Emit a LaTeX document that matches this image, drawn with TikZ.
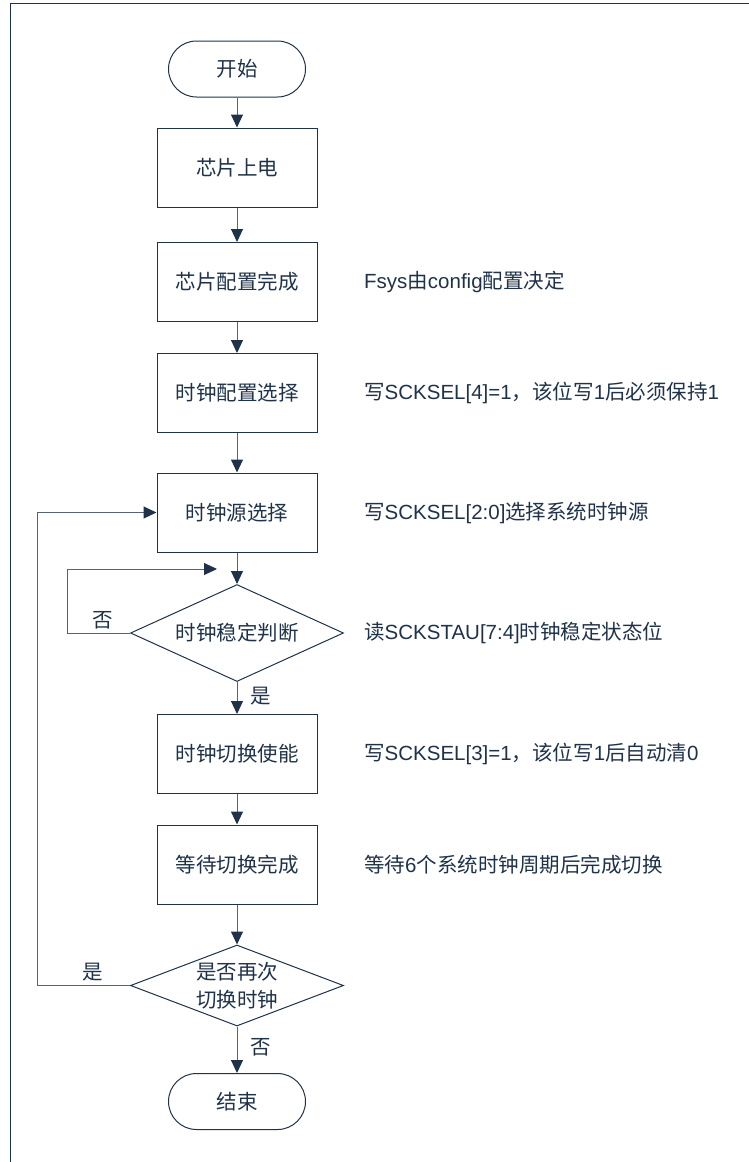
\documentclass[tikz,border=0pt]{standalone}
\usepackage{fontspec}
\setmainfont{Noto Sans CJK SC}
\newfontfamily\latin{Liberation Sans}
\usetikzlibrary{shapes.geometric,arrows.meta}
\definecolor{ink}{RGB}{31,50,72}
\definecolor{wire}{RGB}{84,100,118}
\tikzset{
  term/.style={draw=ink,line width=1pt,rounded corners=28pt,minimum width=137pt,minimum height=56pt},
  proc/.style={draw=ink,line width=1pt,minimum width=160pt,minimum height=79pt,inner sep=0pt},
  test/.style={draw=ink,line width=1pt,shape=diamond,aspect=2.6,inner sep=0pt,minimum width=213pt,align=center},
  note/.style={anchor=west,inner sep=0pt},
  flow/.style={draw=wire,line width=1pt,-{Triangle[length=13pt,width=12pt,color=ink]}},
}
\begin{document}
\begin{tikzpicture}[x=1pt,y=-1pt,font=\fontsize{20.5}{28}\selectfont,text=ink]
\useasboundingbox (0,0) rectangle (749,1162);
\draw[ink,line width=1pt] (10,1162) -- (10,3) -- (749,3); % frame
\node[term] (start)   at (237,69)    {开始};
\node[proc] (powerup) at (237,167.5) {芯片上电};
\node[proc] (cfgdone) at (237,282)   {芯片配置完成};
\node[proc] (clkcfg)  at (237,393)   {时钟配置选择};
\node[proc] (clksrc)  at (237,512.5) {时钟源选择};
\node[test,minimum height=97pt] (stable) at (237,633) {时钟稳定判断};
\node[proc] (swen)    at (237,754)   {时钟切换使能};
\node[proc] (swwait)  at (237,864.5) {等待切换完成};
\node[test,minimum height=81pt] (again) at (237,985.5) {是否再次\\切换时钟};
\node[term] (stop)    at (237,1101.5) {结束};
\node[note] (n-cfgdone) at (364,282)   {{\latin Fsys}由{\latin config}配置决定};
\node[note] (n-clkcfg)  at (364,393)   {写{\latin SCKSEL[4]=1}，该位写{\latin 1}后必须保持{\latin 1}};
\node[note] (n-clksrc)  at (364,512.5) {写{\latin SCKSEL[2:0]}选择系统时钟源};
\node[note] (n-stable)  at (364,633)   {读{\latin SCKSTAU[7:4]}时钟稳定状态位};
\node[note] (n-swen)    at (364,754)   {写{\latin SCKSEL[3]=1}，该位写{\latin 1}后自动清{\latin 0}};
\node[note] (n-swwait)  at (364,864.5) {等待{\latin 6}个系统时钟周期后完成切换};
\coordinate (loopin) at (217,569);
\draw[flow] (start) -- (powerup);
\draw[flow] (powerup) -- (cfgdone);
\draw[flow] (cfgdone) -- (clkcfg);
\draw[flow] (clkcfg) -- (clksrc);
\draw[flow] (clksrc) -- (stable);
\draw[flow] (stable) -- (swen) node[pos=0.45,right=10pt] (yes1) {是};
\draw[flow] (swen) -- (swwait);
\draw[flow] (swwait) -- (again);
\draw[flow] (again) -- (stop) node[pos=0.45,right=10pt] (no2) {否};
\draw[flow] (stable.west) -- (67,633) |- (loopin);
\draw[flow] (again.west) -- (37,985.5) |- (clksrc.west);
\node (no1)  at (103,620) {否};
\node (yes2) at (93,972)  {是};
\end{tikzpicture}
\end{document}
